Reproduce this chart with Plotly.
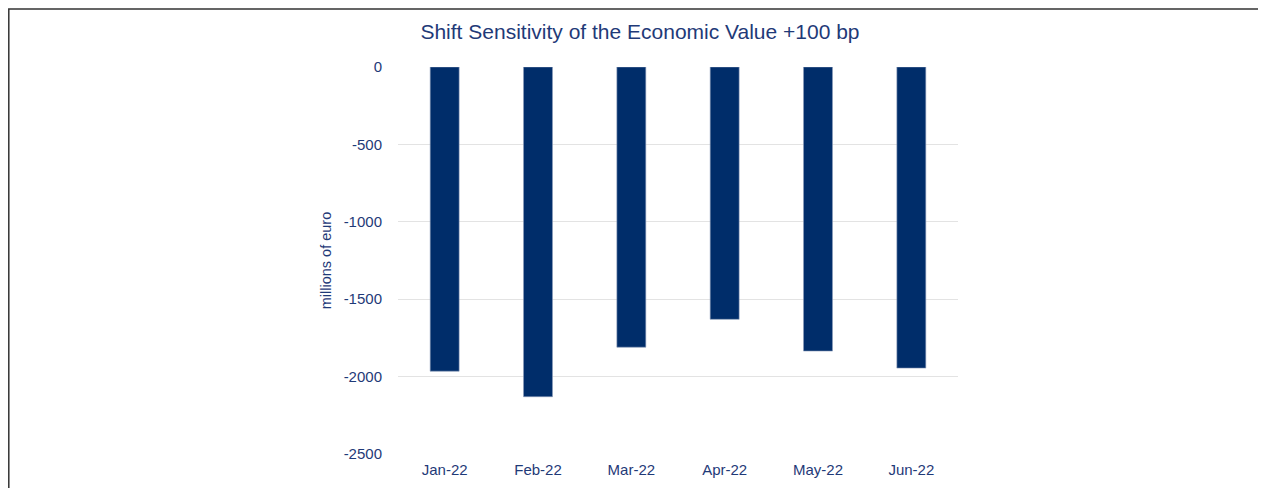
import plotly.graph_objects as go

months = ['Jan-22', 'Feb-22', 'Mar-22', 'Apr-22', 'May-22', 'Jun-22']
shift_sensitivity = [-1965, -2130, -1810, -1630, -1835, -1945]
y_ticks = [0, -500, -1000, -1500, -2000, -2500]
y_tick_labels = ['0', '-500', '-1000', '-1500', '-2000', '-2500']

navy = '#002D6A'
text_col = '#1F3A78'

margin = go.layout.Margin(l=390, r=308, t=59, b=34, pad=0)

data = [go.Bar(
    x=months,
    y=shift_sensitivity,
    marker_color=navy,
    marker_line=dict(color='#8A9BB8', width=0.6),
)]

layout = go.Layout(
    title=dict(text='Shift Sensitivity of the Economic Value +100 bp',
               x=632 / 1258, xref='container', xanchor='center',
               y=1 - 24 / 480, yref='container', yanchor='middle',
               font=dict(family='Liberation Sans, Arial', size=21, color=text_col)),
    width=1258, height=480,
    paper_bgcolor='white',
    plot_bgcolor='white',
    font=dict(family='Liberation Sans, Arial', size=15, color=text_col),
    bargap=0.69,
    showlegend=False,
    margin=margin,
    xaxis=dict(showgrid=False, showline=False, ticks='', ticklen=0,
               ticklabelstandoff=5, automargin=False,
               tickfont=dict(size=15, color=text_col)),
    yaxis=dict(range=[-2500, 0], tickvals=y_ticks, ticktext=y_tick_labels,
               gridcolor='#E3E3E3', gridwidth=1, automargin=False,
               zeroline=False, showline=False, ticks='', ticklen=0,
               ticklabelstandoff=15,
               tickfont=dict(size=15, color=text_col),
               title=dict(text='millions of euro', standoff=8,
                          font=dict(size=14.5, color=text_col))),
    shapes=[dict(type='rect', xref='paper', yref='paper',
                 x0=-0.695, x1=1.56, y0=-0.2, y1=1.1499,
                 line=dict(color='#333333', width=1.5), fillcolor='rgba(0,0,0,0)',
                 layer='below')],
)

fig = go.Figure(data=data, layout=layout)
fig.write_html("out.html")
